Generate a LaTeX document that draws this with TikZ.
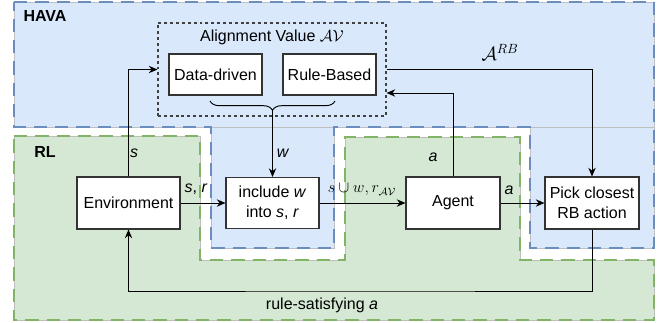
\documentclass[tikz,border=0pt]{standalone}
\usepackage{fontspec}
\setmainfont{Liberation Sans}
\usetikzlibrary{arrows.meta,decorations.pathreplacing}
\definecolor{bfill}{HTML}{DAE8FC}
\definecolor{bdraw}{HTML}{6C8EBF}
\definecolor{gfill}{HTML}{D5E8D4}
\definecolor{gdraw}{HTML}{82B366}
\begin{document}
\begin{tikzpicture}[x=0.75pt,y=-0.75pt,
  every node/.style={font=\fontsize{12}{15}\selectfont},
  box/.style={draw=black!80, fill=white, line width=0.8pt, align=center, inner sep=1pt},
  arr/.style={-{Stealth[length=6.5pt,width=5.5pt]}, line width=0.7pt},
  hdash/.style={draw=bdraw, line width=1.6pt, dash pattern=on 10pt off 6pt},
  gdash/.style={draw=gdraw, line width=1.6pt, dash pattern=on 10pt off 6pt},
  thin gray/.style={draw=black!25, line width=0.4pt},
  title/.style={font=\fontsize{12}{15}\selectfont\bfseries},
]
\useasboundingbox (0,0) rectangle (670,322);
% RL region
\fill[gfill] (14,136) -- (200,136) -- (200,260) -- (345,260) -- (345,137) -- (520,137) -- (520,260) -- (654,260) -- (654,320) -- (14,320) -- cycle;
% HAVA region
\fill[bfill] (14,2) -- (654,2) -- (654,248) -- (530,248) -- (530,127) -- (334,127) -- (334,248) -- (211,248) -- (211,127) -- (14,127) -- cycle;
\draw[thin gray] (14,136) -- (200,136) -- (200,260) -- (345,260) -- (345,137) -- (520,137) -- (520,260) -- (654,260) -- (654,320) -- (14,320) -- cycle;
\draw[thin gray] (14,2) -- (654,2) -- (654,248) -- (530,248) -- (530,127) -- (334,127) -- (334,248) -- (211,248) -- (211,127) -- (14,127) -- cycle;
\draw[thin gray] (211,127) -- (334,127) (530,127) -- (654,127);
\draw[gdash] (14,136) -- (200,136) -- (200,260) -- (345,260) -- (345,137) -- (520,137) -- (520,260) -- (654,260) -- (654,320) -- (14,320) -- cycle;
\draw[hdash] (14,2) -- (654,2) -- (654,248) -- (530,248) -- (530,127) -- (334,127) -- (334,248) -- (211,248) -- (211,127) -- (14,127) -- cycle;
\node[title] (hava) at (45,16) {HAVA};
\node[title] (rl) at (45,152) {RL};
% alignment value group
\node[draw=black!75, dash pattern=on 2.2pt off 2.2pt, line width=0.8pt, minimum width=171pt, minimum height=69.75pt] (av) at (272,69.5) {};
\node (avl) at (272,37) {Alignment Value $\mathcal{AV}$};
\node[box, minimum width=69.75pt, minimum height=30.75pt] (dd) at (215.5,74.5) {Data-driven};
\node[box, minimum width=69.75pt, minimum height=30.75pt] (rb) at (329.5,74.5) {Rule-Based};
\draw[line width=0.7pt, decorate, decoration={brace, amplitude=7pt}] (335,101) -- (210,101);
\coordinate (bt) at (272.5,111);
% main boxes
\node[box, minimum width=77.25pt, minimum height=39pt] (env) at (128.5,203) {Environment};
\node[box, minimum width=69.75pt, minimum height=38.25pt] (inc) at (272.5,203) {include \textit{w}\\into \textit{s}, \textit{r}};
\node[box, minimum width=70.5pt, minimum height=39pt] (agent) at (453,203) {Agent};
\node[box, minimum width=70.5pt, minimum height=39pt] (pick) at (592,203) {Pick closest\\RB action};
% connectors
\draw[arr] (env) -- (inc);
\draw[arr] (inc) -- (agent);
\draw[arr] (agent) -- (pick);
\draw[arr] (env.north) |- (av.west);
\draw[arr] (agent.north) |- ([yshift=-17.6pt]av.east);
\draw[arr] (av.east) -| (pick.north);
\draw[arr] (bt) -- (inc.north);
\coordinate (fb) at (360,291);
\draw[arr] (pick.south) |- (fb) -| (env.south);
% labels
\node (ls) at (134,153) {\textit{s}};
\node (lsr) at (196,189) {\textit{s}, \textit{r}};
\node (lw) at (283,153) {\textit{w}};
\node (lsw) at (362,190) {$s\cup w, r_{\mathcal{AV}}$};
\node (la1) at (509,190) {\textit{a}};
\node (la2) at (433,157) {\textit{a}};
\node[font=\fontsize{14.5}{16}\selectfont] (larb) at (500,52) {$\mathcal{A}^{RB}$};
\node (lrs) at (322,305) {rule-satisfying \textit{a}};
\end{tikzpicture}
\end{document}
